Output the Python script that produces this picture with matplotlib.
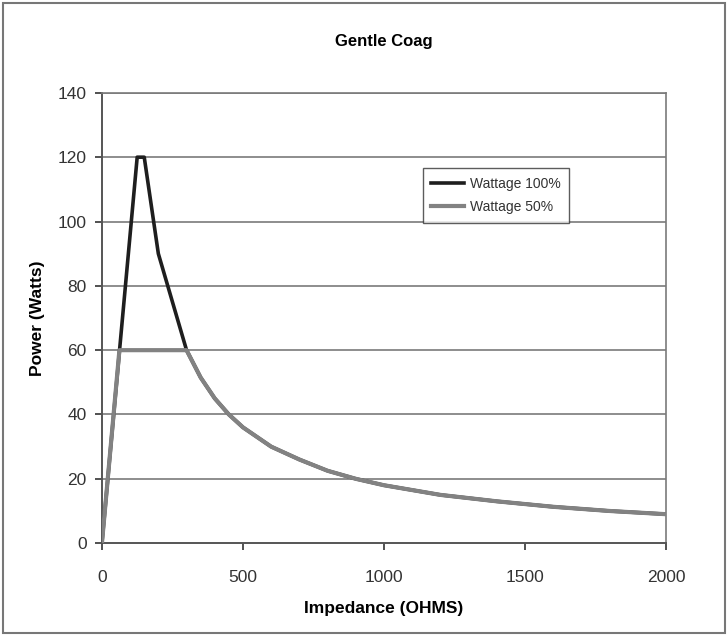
import matplotlib
matplotlib.use("Agg")
import matplotlib.pyplot as plt
from matplotlib.patches import Rectangle

plt.rcParams["font.family"] = ["Liberation Sans", "DejaVu Sans"]

ohms_full = [0, 125, 150, 200, 300, 350, 400, 450, 500, 600, 700, 800, 900,
             1000, 1200, 1400, 1600, 1800, 2000]
watts_full = [0, 120, 120, 90, 60, 51.5, 45, 40, 36, 30, 26, 22.5, 20,
              18, 15, 13, 11.3, 10, 9]

ohms_half = [0, 62, 300, 350, 400, 450, 500, 600, 700, 800, 900, 1000,
             1200, 1400, 1600, 1800, 2000]
watts_half = [0, 60, 60, 51.5, 45, 40, 36, 30, 26, 22.5, 20, 18,
              15, 13, 11.3, 10, 9]

x_ticks = [0, 500, 1000, 1500, 2000]
y_ticks = [0, 20, 40, 60, 80, 100, 120, 140]

fig = plt.figure(figsize=(7.28, 6.36), dpi=100)
ax = fig.add_axes([0.140, 0.146, 0.775, 0.708])

# horizontal grid lines
for y in y_ticks[1:]:
    ax.axhline(y, color="#7a7a7a", linewidth=1.2, zorder=1)

ax.plot(ohms_full, watts_full, color="#1e1e1e", linewidth=2.6,
        label="Wattage 100%", zorder=3)
ax.plot(ohms_half, watts_half, color="#828282", linewidth=3.0,
        label="Wattage 50%", zorder=4)

ax.set_xlim(0, 2000)
ax.set_ylim(0, 140)
ax.set_xticks(x_ticks)
ax.set_yticks(y_ticks)
ax.tick_params(axis="both", labelsize=12.5, colors="#333333",
               direction="out", length=5, width=1.2, pad=6)
ax.tick_params(axis="x", pad=14)

for side in ["left", "bottom"]:
    ax.spines[side].set_color("#555555")
    ax.spines[side].set_linewidth(1.4)
for side in ["right", "top"]:
    ax.spines[side].set_color("#7a7a7a")
    ax.spines[side].set_linewidth(1.2)

ax.set_title("Gentle Coag", fontsize=12, fontweight="bold", pad=34)
ax.set_xlabel("Impedance (OHMS)", fontsize=12.5, fontweight="bold", labelpad=12)
ax.set_ylabel("Power (Watts)", fontsize=12.5, fontweight="bold", labelpad=9)

leg = ax.legend(loc="upper left", bbox_to_anchor=(0.556, 0.848),
                fontsize=10, frameon=True, fancybox=False,
                handlelength=2.4, handletextpad=0.4, borderpad=0.6,
                labelspacing=0.7)
leg.get_frame().set_edgecolor("#333333")
leg.get_frame().set_linewidth(1.0)
for t in leg.get_texts():
    t.set_color("#333333")

# outer border of the chart
fig.patches.append(Rectangle((0.004, 0.004), 0.992, 0.992,
                             transform=fig.transFigure, fill=False,
                             edgecolor="#777777", linewidth=1.5))

fig.savefig("out.png", dpi=100)
